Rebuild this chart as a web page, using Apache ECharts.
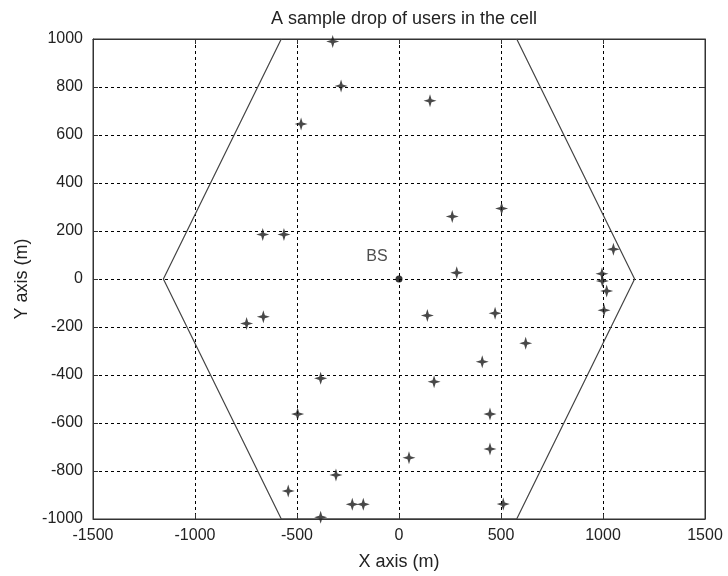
<!DOCTYPE html>
<html>
<head>
    <meta charset="utf-8">
    <title>A sample drop of users in the cell</title>
    <script src="https://cdn.jsdelivr.net/npm/echarts@6/dist/echarts.min.js"></script>
    <style>
        html, body { margin: 0; padding: 0; background: #fff; }
        #main { width: 728px; height: 576px; }
    </style>
</head>
<body>
<div id="main"></div>
<script type="text/javascript">
    // 数据
    var xTicks = [-1500, -1000, -500, 0, 500, 1000, 1500];
    var yTicks = [-1000, -800, -600, -400, -200, 0, 200, 400, 600, 800, 1000];
    // 小区六边形边界
    var cellX = [-577, -1155, -577, 577, 1155, 577];
    var cellY = [1000, 0, -1000, -1000, 0, 1000];
    // 用户位置
    var userX = [-325, -284, 152, -480, -668, -564, 261, 503, 283, 1051, 995, 997, 1018, 1005,
                 -747, -665, 139, 471, 621, 408, -384, 172, -497, 446, 446, 49, -309, -543,
                 -229, -175, -384, 511];
    var userY = [990, 804, 743, 646, 185, 185, 260, 294, 26, 124, 22, -8, -50, -130,
                 -185, -157, -152, -143, -268, -345, -414, -428, -563, -563, -708, -745, -817, -883,
                 -939, -939, -993, -938];
    var bsPos = [0, 0];

    var chart = echarts.init(document.getElementById('main'));

    var font = 'Liberation Sans, Arial, sans-serif';
    var star = 'path://M0,-6 L1.4,-1.4 L6,0 L1.4,1.4 L0,6 L-1.4,1.4 L-6,0 L-1.4,-1.4 Z';

    var cellData = [];
    for (var i = 0; i < cellX.length; i++) cellData.push([cellX[i], cellY[i]]);
    var userData = [];
    for (var j = 0; j < userX.length; j++) userData.push([userX[j], userY[j]]);

    var gridLine = { show: true, lineStyle: { color: '#000', type: [3, 3], width: 1 } };
    var plain = function (v) { return String(v); };

    var option = {
        backgroundColor: '#fff',
        animation: false,
        title: {
            text: 'A sample drop of users in the cell',
            left: 399,
            top: 5,
            textAlign: 'center',
            textStyle: { fontFamily: font, fontSize: 18, fontWeight: 'normal', color: '#222' }
        },
        grid: {
            left: 93, right: 23, top: 39, bottom: 57,
            show: true, borderColor: '#333', borderWidth: 1
        },
        xAxis: [{
            type: 'value',
            min: xTicks[0], max: xTicks[xTicks.length - 1], interval: 500,
            name: 'X axis (m)', nameLocation: 'middle', nameGap: 34,
            nameTextStyle: { fontFamily: font, fontSize: 18, color: '#222' },
            axisLine: { show: true, onZero: false, lineStyle: { color: '#333' } },
            axisTick: { show: true, inside: true, length: 5, lineStyle: { color: '#333' } },
            axisLabel: { fontFamily: font, fontSize: 16, color: '#222', margin: 9, formatter: plain },
            splitLine: gridLine
        }, {
            type: 'value', position: 'top',
            min: xTicks[0], max: xTicks[xTicks.length - 1], interval: 500,
            axisLine: { show: true, onZero: false, lineStyle: { color: '#333' } },
            axisTick: { show: true, inside: true, length: 5, lineStyle: { color: '#333' } },
            axisLabel: { show: false },
            splitLine: { show: false }
        }],
        yAxis: [{
            type: 'value',
            min: yTicks[0], max: yTicks[yTicks.length - 1], interval: 200,
            name: 'Y axis (m)', nameLocation: 'middle', nameGap: 61,
            nameTextStyle: { fontFamily: font, fontSize: 18, color: '#222' },
            axisLine: { show: true, onZero: false, lineStyle: { color: '#333' } },
            axisTick: { show: true, inside: true, length: 5, lineStyle: { color: '#333' } },
            axisLabel: { fontFamily: font, fontSize: 16, color: '#222', margin: 10, formatter: plain },
            splitLine: gridLine
        }, {
            type: 'value', position: 'right',
            min: yTicks[0], max: yTicks[yTicks.length - 1], interval: 200,
            axisLine: { show: true, onZero: false, lineStyle: { color: '#333' } },
            axisTick: { show: true, inside: true, length: 5, lineStyle: { color: '#333' } },
            axisLabel: { show: false },
            splitLine: { show: false }
        }],
        series: [
            {
                name: 'cell',
                type: 'line',
                data: cellData,
                symbol: 'none',
                clip: true,
                lineStyle: { color: '#444', width: 1.2 }
            },
            {
                name: 'users',
                type: 'scatter',
                data: userData,
                symbol: star,
                symbolSize: 13,
                itemStyle: { color: '#1a1a1a' }
            },
            {
                name: 'BS',
                type: 'scatter',
                data: [bsPos],
                symbol: 'circle',
                symbolSize: 7,
                itemStyle: { color: '#000' },
                label: {
                    show: true,
                    formatter: 'BS',
                    position: 'inside',
                    offset: [-22, -22],
                    fontFamily: font,
                    fontSize: 16,
                    color: '#222'
                }
            }
        ]
    };
    chart.setOption(option);
</script>
</body>
</html>
